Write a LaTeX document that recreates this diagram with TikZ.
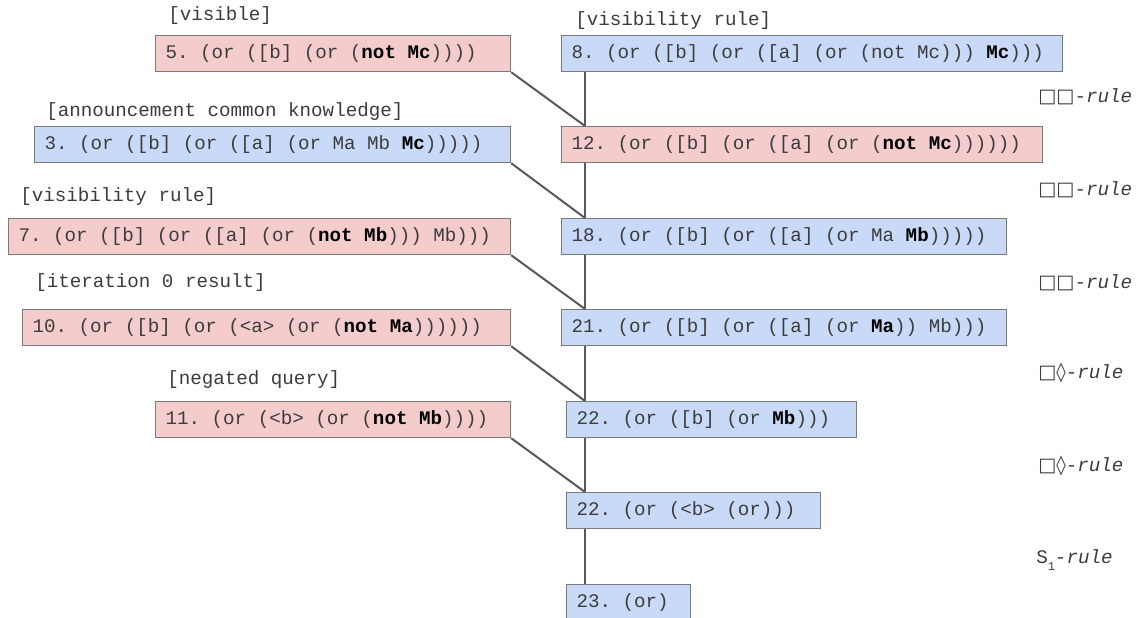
\documentclass[tikz,border=0pt]{standalone}
\usepackage{fontspec}
\setmainfont{Liberation Mono}
\newfontfamily\symfont{DejaVu Sans}
\frenchspacing
\definecolor{pinkfill}{HTML}{F4CCCC}
\definecolor{bluefill}{HTML}{C9DAF8}
\definecolor{boxline}{HTML}{7A7A7A}
\definecolor{wire}{HTML}{595959}
\definecolor{txt}{HTML}{3C3C3C}
\newcommand{\bd}[1]{\textcolor{black}{\textbf{#1}}}
\newcommand{\sq}{{\symfont\char"25A1}}
\newcommand{\lz}{{\symfont\char"25CA}}
% a formula line, left-aligned in a slot of the given width
\newcommand{\fline}[2]{\makebox[#1][l]{#2}}
\tikzset{
  x=0.75pt, y=-0.75pt,
  formula/.style={draw=boxline, line width=0.9pt, anchor=north west,
    minimum height=27pt, inner xsep=7.5pt, inner ysep=2pt,
    text=txt, font=\fontsize{14.4}{16}\selectfont\frenchspacing},
  negbox/.style={formula, fill=pinkfill},
  posbox/.style={formula, fill=bluefill},
  tag/.style={anchor=west, inner sep=0pt, text=txt,
    font=\fontsize{14.4}{16}\selectfont},
  rulelbl/.style={anchor=west, inner sep=0pt, text=txt,
    font=\fontsize{14.4}{16}\selectfont},
  link/.style={draw=wire, line width=1.5pt}
}
\begin{document}
\begin{tikzpicture}
\clip (0,0) rectangle (1136,618);
\coordinate (spine) at (585,0);

% left column: premises
\node[negbox] (n5)  at (155,35)  {\fline{251.25pt}{5. (or ([b] (or (\bd{not Mc}))))}};
\node[posbox] (n3)  at (34,126)  {\fline{342pt}{3. (or ([b] (or ([a] (or Ma Mb \bd{Mc})))))}};
\node[negbox] (n7)  at (8,218)   {\fline{361.5pt}{7. (or ([b] (or ([a] (or (\bd{not Mb}))) Mb)))}};
\node[negbox] (n10) at (22,309)  {\fline{351pt}{10. (or ([b] (or (<a> (or (\bd{not Ma}))))))}};
\node[negbox] (n11) at (155,401) {\fline{251.25pt}{11. (or (<b> (or (\bd{not Mb}))))}};

% premise annotations
\node[tag] (t5)  at (168,16)  {[visible]};
\node[tag] (t8)  at (575,21)  {[visibility rule]};
\node[tag] (t3)  at (46,112)  {[announcement common knowledge]};
\node[tag] (t7)  at (20,197)  {[visibility rule]};
\node[tag] (t10) at (35,283)  {[iteration 0 result]};
\node[tag] (t11) at (167,380) {[negated query]};

% main derivation chain
\node[posbox] (n8)   at (561,35)  {\fline{360.75pt}{8. (or ([b] (or ([a] (or (not Mc))) \bd{Mc})))}};
\node[negbox] (n12)  at (561,126) {\fline{345.75pt}{12. (or ([b] (or ([a] (or (\bd{not Mc}))))))}};
\node[posbox] (n18)  at (561,218) {\fline{318.75pt}{18. (or ([b] (or ([a] (or Ma \bd{Mb})))))}};
\node[posbox] (n21)  at (561,309) {\fline{318.75pt}{21. (or ([b] (or ([a] (or \bd{Ma})) Mb)))}};
\node[posbox] (n22)  at (566,401) {\fline{202.5pt}{22. (or ([b] (or \bd{Mb})))}};
\node[posbox] (n22b) at (566,492) {\fline{175.5pt}{22. (or (<b> (or)))}};
\node[posbox] (n23)  at (566,584) {\fline{78pt}{23. (or)}};

% rule names
\node[rulelbl] (r1) at (1038,97)  {\sq\sq-\textit{rule}};
\node[rulelbl] (r2) at (1038,190) {\sq\sq-\textit{rule}};
\node[rulelbl] (r3) at (1038,283) {\sq\sq-\textit{rule}};
\node[rulelbl] (r4) at (1038,373) {\sq\lz-\textit{rule}};
\node[rulelbl] (r5) at (1038,466) {\sq\lz-\textit{rule}};
\node[rulelbl] (r6) at (1036,560) {S\raisebox{-5pt}{\fontsize{9}{9}\selectfont 1}-\textit{rule}};

% vertical spine
\draw[link] (n8.south -| spine)   -- (n12.north -| spine);
\draw[link] (n12.south -| spine)  -- (n18.north -| spine);
\draw[link] (n18.south -| spine)  -- (n21.north -| spine);
\draw[link] (n21.south -| spine)  -- (n22.north -| spine);
\draw[link] (n22.south -| spine)  -- (n22b.north -| spine);
\draw[link] (n22b.south -| spine) -- (n23.north -| spine);

% side premises joining the spine
\draw[link] (n5.south east)  -- (n12.north -| spine);
\draw[link] (n3.south east)  -- (n18.north -| spine);
\draw[link] (n7.south east)  -- (n21.north -| spine);
\draw[link] (n10.south east) -- (n22.north -| spine);
\draw[link] (n11.south east) -- (n22b.north -| spine);
\end{tikzpicture}
\end{document}
